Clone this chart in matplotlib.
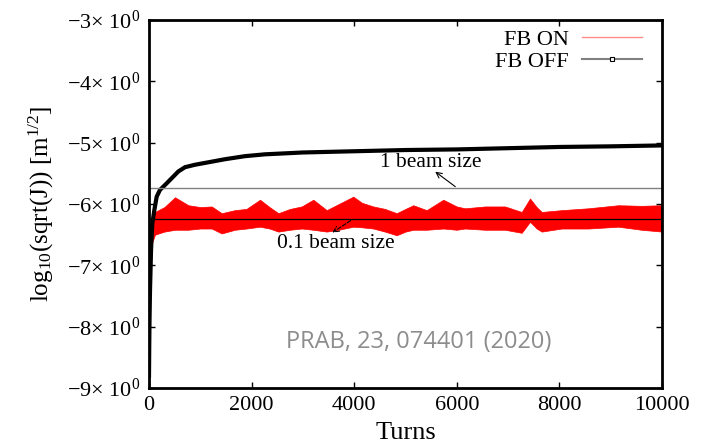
import numpy as np
import matplotlib
matplotlib.use('Agg')
import matplotlib.pyplot as plt
from matplotlib.lines import Line2D

plt.rcParams['font.family'] = ['Liberation Serif', 'DejaVu Serif']
plt.rcParams['mathtext.fontset'] = 'custom'
plt.rcParams['mathtext.rm'] = 'Liberation Serif'
plt.rcParams['mathtext.it'] = 'Liberation Serif:italic'

# FB OFF: growth of the amplitude without feedback
off_turns = [0, 5, 10, 20, 40, 64, 104, 150, 214, 312, 442, 571, 702, 897, 1092,
             1481, 1871, 2261, 3000, 4000, 5000, 6000, 7000, 8000, 9000, 10000]
off_val = [-8.8, -8.3, -7.9, -7.4, -6.75, -6.32, -6.10, -5.88, -5.77, -5.69, -5.58,
           -5.47, -5.40, -5.36, -5.33, -5.27, -5.22, -5.19, -5.16, -5.14, -5.12,
           -5.11, -5.09, -5.07, -5.06, -5.045]

# FB ON: noisy band, upper / lower envelope
on_turns = [30, 117, 300, 507, 767, 1000, 1222, 1417, 1676, 1900, 2164, 2350, 2521,
            2750, 2977, 3203, 3464, 3700, 3983, 4150, 4373, 4600, 4828, 5000, 5152,
            5413, 5737, 5998, 6160, 6550, 6940, 7265, 7427, 7557, 7655, 8045, 8564,
            9149, 9600, 10000]
on_top = [-6.25, -6.13, -6.05, -5.89, -6.02, -6.05, -6.04, -6.15, -6.10, -6.08, -5.93,
          -6.05, -6.15, -6.08, -6.04, -5.93, -6.10, -6.00, -5.88, -5.98, -6.04, -6.08,
          -6.15, -6.08, -6.02, -6.10, -5.93, -6.04, -6.07, -6.04, -6.04, -6.13, -5.91,
          -6.05, -6.13, -6.10, -6.07, -6.02, -6.03, -6.02]
on_bot = [-6.70, -6.50, -6.45, -6.42, -6.42, -6.40, -6.40, -6.48, -6.42, -6.40, -6.37,
          -6.40, -6.45, -6.42, -6.40, -6.42, -6.45, -6.42, -6.37, -6.38, -6.40, -6.45,
          -6.51, -6.45, -6.42, -6.42, -6.40, -6.42, -6.40, -6.42, -6.42, -6.47, -6.29,
          -6.40, -6.45, -6.40, -6.40, -6.37, -6.42, -6.45]

one_beam = -5.745    # 1 beam size level
tenth_beam = -6.25   # 0.1 beam size level

xticks = [0, 2000, 4000, 6000, 8000, 10000]
yticks = [-9, -8, -7, -6, -5, -4, -3]
ylabels = ['\u2212%d\u00d7 10$^{0}$' % abs(v) for v in yticks]

fig = plt.figure(figsize=(7.09, 4.45), dpi=100)
ax = fig.add_axes([149/709, 1-388/445, 513/709, 368/445])

ax.fill_between(on_turns, on_bot, on_top, color='red', lw=0.5, edgecolor='red')
ax.plot(off_turns, off_val, color='black', lw=3)
ax.axhline(one_beam, color='gray', lw=1)
ax.axhline(tenth_beam, color='black', lw=0.9)

# annotations
ax.annotate('', xy=(5536, -5.446), xytext=(6014, -5.744),
            arrowprops=dict(arrowstyle='->', color='black', lw=0.8))
ax.text(5497, -5.33, '1 beam size', fontsize=15.5, ha='center', va='center')
ax.annotate('', xy=(3528, -6.49), xytext=(3977, -6.245),
            arrowprops=dict(arrowstyle='->', color='black', lw=0.8, ls='--'))
ax.text(3645, -6.64, '0.1 beam size', fontsize=15.5, ha='center', va='center')

ax.text(0.525, 0.125, 'PRAB, 23, 074401 (2020)', transform=ax.transAxes,
        fontsize=17, color='#8c8c8c', ha='center', va='center', family='Open Sans')

handles = [Line2D([], [], color='#ff8c8c', lw=1),
           Line2D([], [], color='#7f7f7f', lw=1.5, marker='s', ms=3,
                  mfc='white', mec='black', mew=0.8)]
ax.legend(handles, ['FB ON', 'FB OFF'], loc='upper right', frameon=False,
          markerfirst=False, fontsize=16, handlelength=2.7, handletextpad=0.6,
          labelspacing=0.05, borderaxespad=0.1, borderpad=0.0,
          bbox_to_anchor=(0.965, 0.98))

ax.set_xlim(0, 10000)
ax.set_ylim(-9, -3)
ax.set_xticks(xticks)
ax.set_yticks(yticks)
ax.set_yticklabels(ylabels)
ax.tick_params(direction='in', length=4, width=1, top=True, right=True,
               labelsize=16, pad=6)
for s in ax.spines.values():
    s.set_linewidth(2)

ax.set_xlabel('Turns', fontsize=19, labelpad=5)
ax.set_ylabel('log$_{10}$(sqrt(J)) [m$^{1/2}$]', fontsize=18, labelpad=8)

fig.savefig('out.png', dpi=100)
